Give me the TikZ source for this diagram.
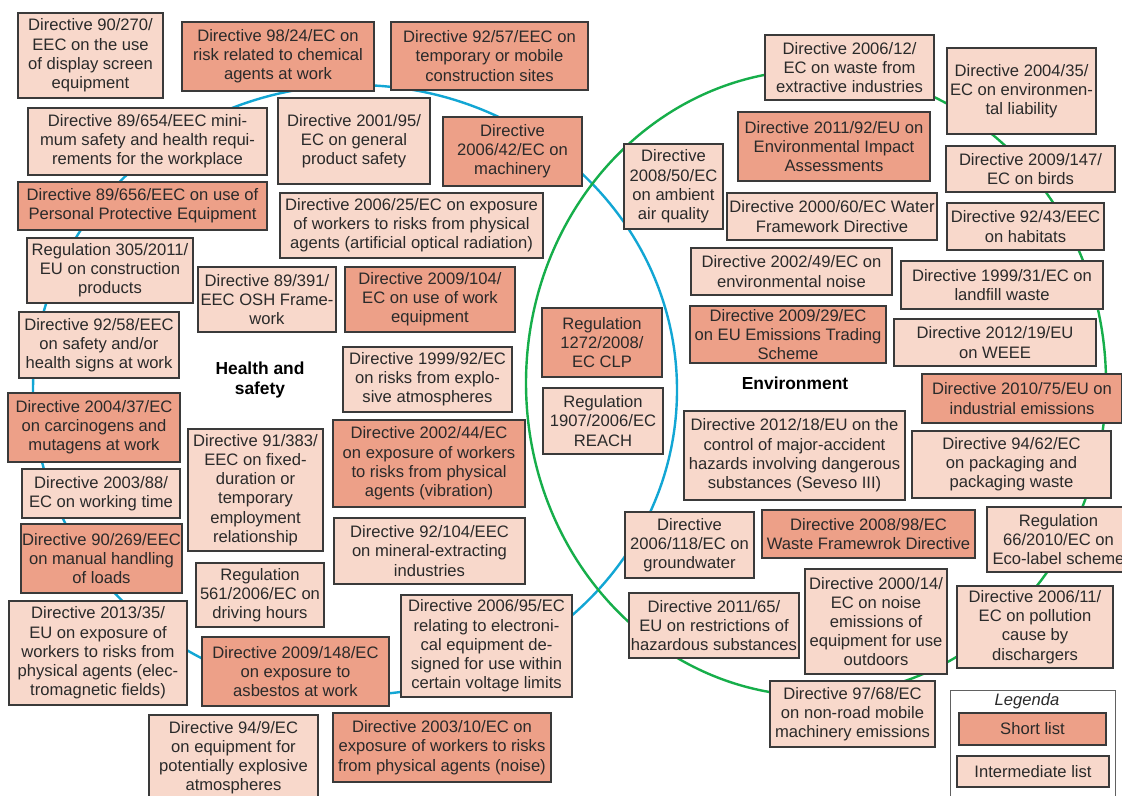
\documentclass[tikz,border=0pt]{standalone}
\usepackage{fontspec}
\setmainfont{Liberation Sans}
\usepackage{xcolor}
\usepackage{tikz}
\definecolor{shortfill}{HTML}{EDA088}
\definecolor{midfill}{HTML}{F8D8CB}
\definecolor{edge}{HTML}{3A3A3A}
\definecolor{hsblue}{HTML}{12A6D4}
\definecolor{envgreen}{HTML}{16AE4A}
\definecolor{ink}{HTML}{2A2A2A}
\tikzset{
  listbox/.style={draw=edge, line width=0.6pt, text=ink, align=center,
    inner sep=0.4pt, font=\fontsize{8.3}{9.6}\selectfont},
  shortbox/.style={listbox, fill=shortfill},
  midbox/.style={listbox, fill=midfill},
  wh/.style 2 args={minimum width=#1*0.5pt, minimum height=#2*0.5pt},
  ring/.style={line width=1.2pt},
  title/.style={font=\fontsize{8.7}{9.8}\selectfont\bfseries, align=center, text=black}
}

\begin{document}
\begin{tikzpicture}[x=0.5pt, y=-0.5pt]
  \useasboundingbox[fill=white] (0,0) rectangle (1122,796);

  % the two groups
  \draw[ring, hsblue] (355,390) ellipse [x radius=161pt, y radius=152.5pt];
  \draw[ring, envgreen] (816,383) ellipse [x radius=145pt, y radius=156.5pt];

  % health and safety
  \node[midbox, wh={145}{85}] (d90270) at (90.5,55.5) {Directive 90/270/\\EEC on the use\\of display screen\\equipment};
  \node[shortbox, wh={192}{69}] (d9824) at (278,56.5) {Directive 98/24/EC on\\risk related to chemical\\agents at work};
  \node[shortbox, wh={197}{68}] (d9257) at (489.5,56) {Directive 92/57/EEC on\\temporary or mobile\\construction sites};
  \node[midbox, wh={239}{67}] (d89654) at (147.5,141.5) {Directive 89/654/EEC mini-\\mum safety and health requi-\\rements for the workplace};
  \node[midbox, wh={152}{86}] (d200195) at (354,141) {Directive 2001/95/\\EC on general\\product safety};
  \node[shortbox, wh={139}{69}] (d200642) at (512.5,151.5) {Directive\\2006/42/EC on\\machinery};
  \node[shortbox, wh={249}{48}] (d89656) at (142.5,206) {Directive 89/656/EEC on use of\\Personal Protective Equipment};
  \node[midbox, wh={263}{65}] (d200625) at (411.5,225.5) {Directive 2006/25/EC on exposure\\of workers to risks from physical\\agents (artificial optical radiation)};
  \node[midbox, wh={166}{65}] (r3052011) at (110,270.5) {Regulation 305/2011/\\EU on construction\\products};
  \node[midbox, wh={138}{65}] (d89391) at (267,299.5) {Directive 89/391/\\EEC OSH Frame-\\work};
  \node[shortbox, wh={170}{65}] (d2009104) at (430,299.5) {Directive 2009/104/\\EC on use of work\\equipment};
  \node[midbox, wh={160}{66}] (d9258) at (99,345) {Directive 92/58/EEC\\on safety and/or\\health signs at work};
  \node[midbox, wh={169}{65}] (d199992) at (427.5,379.5) {Directive 1999/92/EC\\on risks from explo-\\sive atmospheres};
  \node[shortbox, wh={172}{69}] (d200437) at (94,427.5) {Directive 2004/37/EC\\on carcinogens and\\mutagens at work};
  \node[midbox, wh={135}{122}] (d91383) at (255.5,490) {Directive 91/383/\\EEC on fixed-\\duration or\\temporary\\employment\\relationship};
  \node[shortbox, wh={192}{87}] (d200244) at (429,463.5) {Directive 2002/44/EC\\on exposure of workers\\to risks from physical\\agents (vibration)};
  \node[midbox, wh={158}{49}] (d200388) at (101,493.5) {Directive 2003/88/\\EC on working time};
  \node[midbox, wh={191}{66}] (d92104) at (429.5,551) {Directive 92/104/EEC\\on mineral-extracting\\industries};
  \node[shortbox, wh={161}{69}] (d90269) at (101.5,558.5) {Directive 90/269/EEC\\on manual handling\\of loads};
  \node[midbox, wh={128}{64}] (r5612006) at (260,595) {Regulation\\561/2006/EC on\\driving hours};
  \node[midbox, wh={178}{104}] (d201335) at (98,653) {Directive 2013/35/\\EU on exposure of\\workers to risks from\\physical agents (elec-\\tromagnetic fields)};
  \node[shortbox, wh={187}{69}] (d2009148) at (295.5,671.5) {Directive 2009/148/EC\\on exposure to\\asbestos at work};
  \node[midbox, wh={171}{102}] (d200695) at (486.5,646) {Directive 2006/95/EC\\relating to electroni-\\cal equipment de-\\signed for use within\\certain voltage limits};
  \node[midbox, wh={169}{85}] (d949) at (233.5,757.5) {Directive 94/9/EC\\on equipment for\\potentially explosive\\atmospheres};
  \node[shortbox, wh={218}{69}] (d200310) at (442,747.5) {Directive 2003/10/EC on\\exposure of workers to risks\\from physical agents (noise)};
  \node[title] (hs) at (260,380) {Health and\\safety};

  % shared by both
  \node[shortbox, wh={120}{69}] (r12722008) at (602,342.5) {Regulation\\1272/2008/\\EC CLP};
  \node[midbox, wh={120}{66}] (r19072006) at (603,421) {Regulation\\1907/2006/EC\\REACH};

  % environment
  \node[midbox, wh={99}{85}] (d200850) at (673.5,186.5) {Directive\\2008/50/EC\\on ambient\\air quality};
  \node[midbox, wh={169}{65}] (d200612) at (849.5,67.5) {Directive 2006/12/\\EC on waste from\\extractive industries};
  \node[midbox, wh={149}{86}] (d200435) at (1021.5,91) {Directive 2004/35/\\EC on environmen-\\tal liability};
  \node[shortbox, wh={192}{69}] (d201192) at (834,146.5) {Directive 2011/92/EU on\\Environmental Impact\\Assessments};
  \node[midbox, wh={169}{46}] (d2009147) at (1030.5,169) {Directive 2009/147/\\EC on birds};
  \node[midbox, wh={210}{47}] (d200060) at (832,216.5) {Directive 2000/60/EC Water\\Framework Directive};
  \node[midbox, wh={157}{47}] (d9243) at (1025.5,226.5) {Directive 92/43/EEC\\on habitats};
  \node[midbox, wh={201}{47}] (d200249) at (791.5,271.5) {Directive 2002/49/EC on\\environmental noise};
  \node[midbox, wh={202}{48}] (d199931) at (1002,285) {Directive 1999/31/EC on\\landfill waste};
  \node[shortbox, wh={196}{57}] (d200929) at (788,334.5) {Directive 2009/29/EC\\on EU Emissions Trading\\Scheme};
  \node[midbox, wh={202}{47}] (d201219) at (995,342.5) {Directive 2012/19/EU\\on WEEE};
  \node[shortbox, wh={200}{49}] (d201075) at (1022,398.5) {Directive 2010/75/EU on\\industrial emissions};
  \node[midbox, wh={221}{89}] (d201218) at (794.5,455.5) {Directive 2012/18/EU on the\\control of major-accident\\hazards involving dangerous\\substances (Seveso III)};
  \node[midbox, wh={199}{67}] (d9462) at (1011.5,464.5) {Directive 94/62/EC\\on packaging and\\packaging waste};
  \node[midbox, wh={129}{66}] (d2006118) at (689.5,545) {Directive\\2006/118/EC on\\groundwater};
  \node[shortbox, wh={213}{48}] (d200898) at (868.5,534) {Directive 2008/98/EC\\Waste Framewrok Directive};
  \node[midbox, wh={143}{65}] (r662010) at (1058.5,539.5) {Regulation\\66/2010/EC on\\Eco-label scheme};
  \node[midbox, wh={170}{65}] (d201165) at (714,625.5) {Directive 2011/65/\\EU on restrictions of\\hazardous substances};
  \node[midbox, wh={142}{105}] (d200014) at (876,621.5) {Directive 2000/14/\\EC on noise\\emissions of\\equipment for use\\outdoors};
  \node[midbox, wh={156}{82}] (d200611) at (1035,627) {Directive 2006/11/\\EC on pollution\\cause by\\dischargers};
  \node[midbox, wh={165}{66}] (d9768) at (852.5,714) {Directive 97/68/EC\\on non-road mobile\\machinery emissions};
  \node[title] (env) at (795,383) {Environment};

  % legend
  \node[draw=edge!80, line width=0.6pt, fill=white, wh={165}{115}, anchor=north west] (legend) at (950,690) {};
  \node[font=\fontsize{8.3}{9.6}\selectfont\itshape, text=ink] (legtitle) at (1027,701) {Legenda};
  \node[shortbox, wh={147}{32}] (legshort) at (1032.5,729) {Short list};
  \node[midbox, wh={152}{31}] (legmid) at (1033,771.5) {Intermediate list};
\end{tikzpicture}
\end{document}
